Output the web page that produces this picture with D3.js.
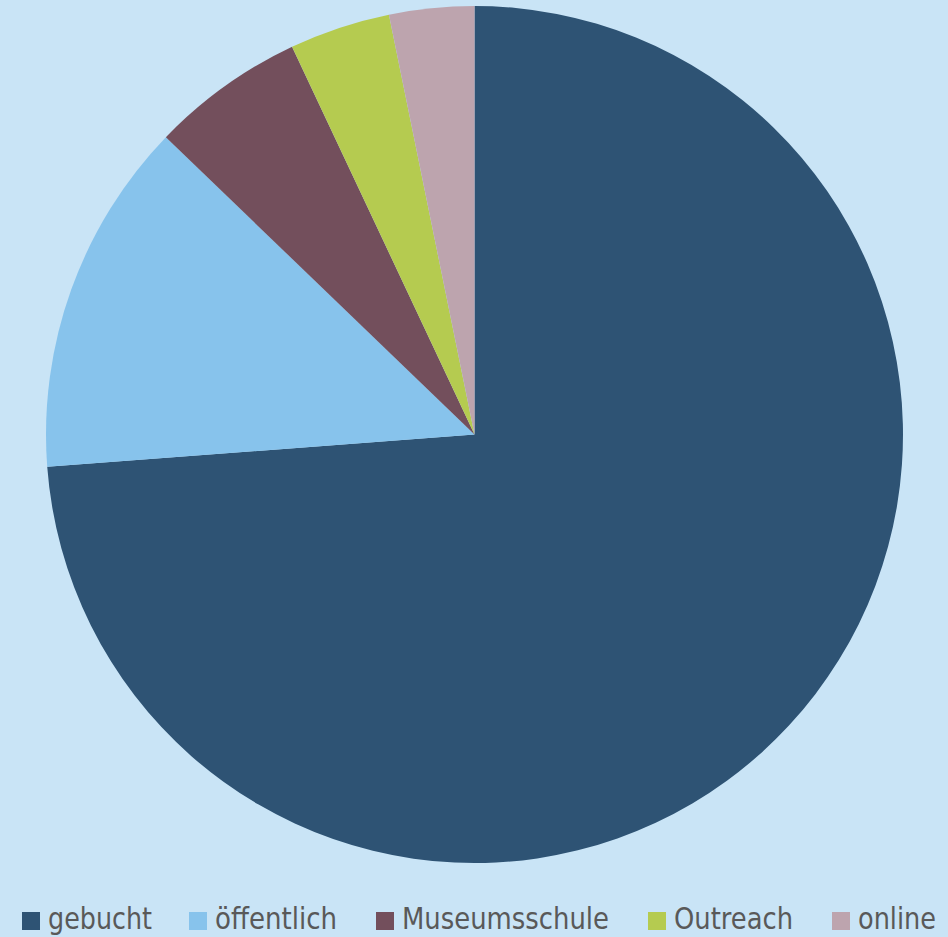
<!DOCTYPE html>
<html>
<head>
<meta charset="utf-8">
<script src="https://cdn.jsdelivr.net/npm/d3@7"></script>
<style>
  html, body { margin: 0; padding: 0; background: #c9e4f6; }
  svg { display: block; }
</style>
</head>
<body>
<div id="chart"></div>
<script>
// Anteil der Führungen nach Art (in %)
const categories = ["gebucht", "öffentlich", "Museumsschule", "Outreach", "online"];
const values = [73.8, 13.4, 5.8, 3.8, 3.2];
const colors = ["#2e5374", "#87c3ec", "#734f5c", "#b5cb50", "#bda4ae"];

const width = 948;
const height = 937;
const cx = 474.5, cy = 434.5, radius = 428.5;

const data = categories.map((c, i) => ({name: c, value: values[i]}));

const svg = d3.select("#chart")
  .append("svg")
  .attr("width", width)
  .attr("height", height);

svg.append("rect")
  .attr("width", width)
  .attr("height", height)
  .attr("fill", "#c9e4f6");

const color = d3.scaleOrdinal()
  .domain(categories)
  .range(colors);

// pie starts at 12 o'clock, goes clockwise, keeps data order
const pie = d3.pie()
  .sort(null)
  .value(d => d.value);

const arc = d3.arc()
  .innerRadius(0)
  .outerRadius(radius);

svg.append("g")
  .attr("transform", `translate(${cx},${cy})`)
  .selectAll("path")
  .data(pie(data))
  .enter()
  .append("path")
    .attr("d", arc)
    .attr("fill", d => color(d.data.name));

// legend along the bottom
const legendX = [22, 189, 376, 648, 832];
const textW = [104, 122, 207, 119, 78];

const legend = svg.append("g")
  .selectAll("g")
  .data(categories)
  .enter()
  .append("g")
    .attr("transform", (d, i) => `translate(${legendX[i]},912)`);

legend.append("rect")
  .attr("width", 18)
  .attr("height", 18)
  .attr("fill", d => color(d));

legend.append("text")
  .attr("x", 26)
  .attr("y", 17)
  .attr("font-family", "'Liberation Sans Narrow', 'DejaVu Sans Condensed', sans-serif")
  .attr("font-size", "30px")
  .attr("fill", "#595959")
  .attr("textLength", (d, i) => textW[i])
  .attr("lengthAdjust", "spacingAndGlyphs")
  .text(d => d);
</script>
</body>
</html>
